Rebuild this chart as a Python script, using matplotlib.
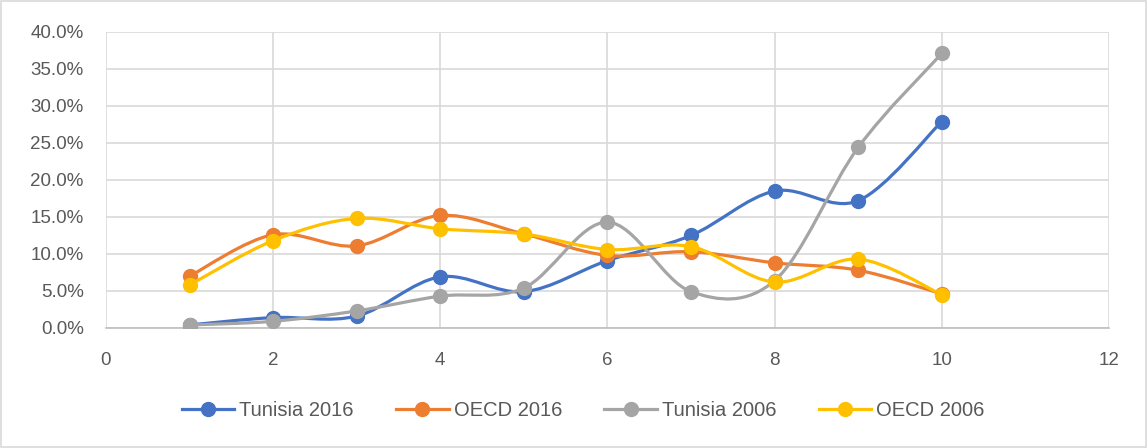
import matplotlib
matplotlib.use("Agg")
import matplotlib.pyplot as plt
import numpy as np
from matplotlib.path import Path
from matplotlib.patches import PathPatch, Rectangle
from matplotlib.lines import Line2D
from matplotlib.ticker import FuncFormatter

plt.rcParams['font.family'] = ['Liberation Sans', 'DejaVu Sans']

x = [1, 2, 3, 4, 5, 6, 7, 8, 9, 10]
tunisia_2016 = [0.004, 0.014, 0.016, 0.069, 0.049, 0.091, 0.125, 0.185, 0.172, 0.279]
oecd_2016 = [0.070, 0.126, 0.111, 0.152, 0.127, 0.098, 0.103, 0.088, 0.078, 0.046]
tunisia_2006 = [0.004, 0.009, 0.023, 0.043, 0.054, 0.143, 0.049, 0.064, 0.244, 0.371]
oecd_2006 = [0.058, 0.118, 0.148, 0.134, 0.127, 0.106, 0.110, 0.062, 0.093, 0.045]

names = ["Tunisia 2016", "OECD 2016", "Tunisia 2006", "OECD 2006"]
series = [tunisia_2016, oecd_2016, tunisia_2006, oecd_2006]
colors = ["#4472C4", "#ED7D31", "#A5A5A5", "#FFC000"]


def smooth_path(xs, ys):
    # excel-like smoothed line: bezier segments, catmull-rom control points
    p = np.column_stack([xs, ys]).astype(float)
    n = len(p)
    verts = [p[0]]
    codes = [Path.MOVETO]
    for i in range(n - 1):
        p0 = p[i - 1] if i > 0 else p[i]
        p1 = p[i]
        p2 = p[i + 1]
        p3 = p[i + 2] if i + 2 < n else p[i + 1]
        c1 = p1 + (p2 - p0) / 6.0
        c2 = p2 - (p3 - p1) / 6.0
        verts += [c1, c2, p2]
        codes += [Path.CURVE4] * 3
    return Path(verts, codes)


fig = plt.figure(figsize=(11.48, 4.48), dpi=100)
ax = fig.add_axes([0.0923, 0.268, 0.8737, 0.6606])

handles = []
for k, (name, ys, c) in enumerate(zip(names, series, colors)):
    ax.add_patch(PathPatch(smooth_path(x, ys), fill=False, ec=c, lw=2.3,
                           zorder=3 + k, capstyle='round', joinstyle='round'))
    ax.plot(x, ys, 'o', color=c, markersize=10, zorder=3 + k, linestyle='none')
    handles.append(Line2D([], [], color=c, lw=2.3, marker='o', markersize=10))

ax.set_xlim(0, 12)
ax.set_ylim(0, 0.40)
ax.set_xticks(range(0, 13, 2))
ax.set_yticks(np.arange(0, 0.401, 0.05))
ax.yaxis.set_major_formatter(FuncFormatter(lambda v, pos: f"{v*100:.1f}%"))
ax.grid(True, color="#d9d9d9", lw=1.2, zorder=0)
ax.set_axisbelow(True)
for s in ["top", "right", "left"]:
    ax.spines[s].set_visible(False)
ax.spines["bottom"].set_color("#bfbfbf")
ax.spines["bottom"].set_linewidth(1.2)
ax.tick_params(axis='both', length=0, labelsize=13.5, labelcolor="#595959")
ax.tick_params(axis='y', pad=16)
ax.tick_params(axis='x', pad=17)

fig.legend(handles, names, loc='center', bbox_to_anchor=(0.508, 0.083), ncol=4,
           frameon=False, fontsize=14.5, labelcolor="#595959",
           handlelength=2.6, handletextpad=0.25, columnspacing=2.1)

fig.add_artist(Rectangle((0.001, 0.003), 0.997, 0.994, transform=fig.transFigure,
                         fill=False, ec="#d9d9d9", lw=1.2))

fig.savefig("out.png", dpi=100)
